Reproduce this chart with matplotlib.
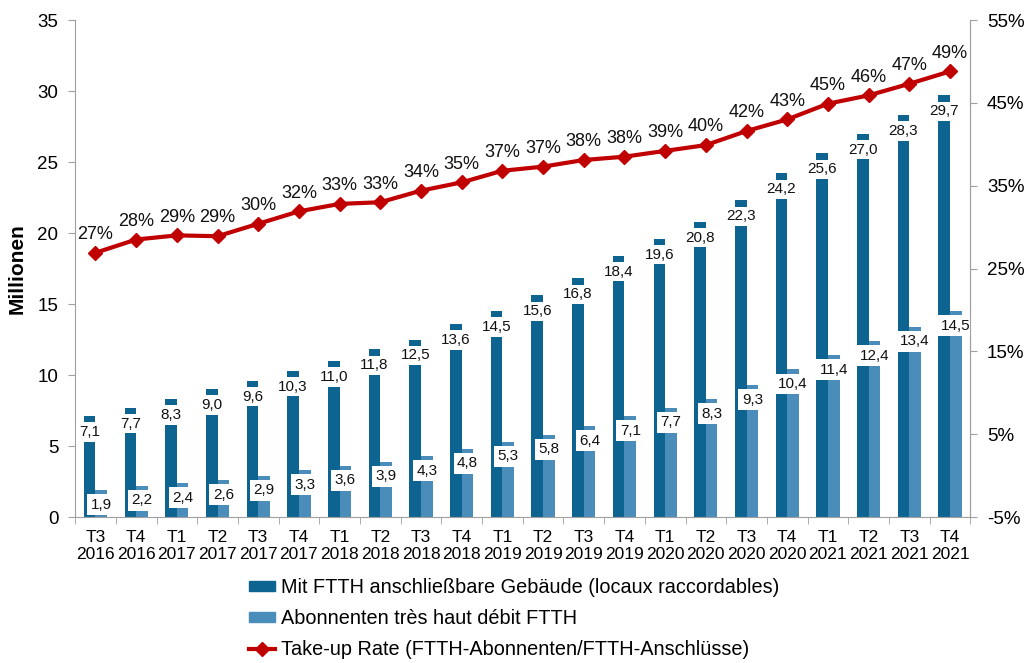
import matplotlib
matplotlib.use("Agg")
import matplotlib.pyplot as plt
import numpy as np
from matplotlib.lines import Line2D
from matplotlib.patches import Patch

plt.rcParams['font.family'] = ['Liberation Sans', 'DejaVu Sans']

quarters = ["T3", "T4", "T1", "T2", "T3", "T4", "T1", "T2", "T3", "T4", "T1",
            "T2", "T3", "T4", "T1", "T2", "T3", "T4", "T1", "T2", "T3", "T4"]
years = ["2016", "2016", "2017", "2017", "2017", "2017", "2018", "2018", "2018", "2018", "2019",
         "2019", "2019", "2019", "2020", "2020", "2020", "2020", "2021", "2021", "2021", "2021"]
raccordables = [7.1, 7.7, 8.3, 9.0, 9.6, 10.3, 11.0, 11.8, 12.5, 13.6, 14.5,
                15.6, 16.8, 18.4, 19.6, 20.8, 22.3, 24.2, 25.6, 27.0, 28.3, 29.7]
abonnes = [1.9, 2.2, 2.4, 2.6, 2.9, 3.3, 3.6, 3.9, 4.3, 4.8, 5.3,
           5.8, 6.4, 7.1, 7.7, 8.3, 9.3, 10.4, 11.4, 12.4, 13.4, 14.5]
takeup = [26.9, 28.5, 29.0, 28.9, 30.4, 31.9, 32.8, 33.0, 34.4, 35.4, 36.8,
          37.3, 38.1, 38.5, 39.2, 39.9, 41.6, 43.0, 44.9, 45.9, 47.3, 48.8]
takeup_labels = ["27%", "28%", "29%", "29%", "30%", "32%", "33%", "33%", "34%", "35%", "37%",
                 "37%", "38%", "38%", "39%", "40%", "42%", "43%", "45%", "46%", "47%", "49%"]

dark = "#0E6491"
light = "#4A8DBA"
red = "#C00000"
gray = "#A0A0A0"

fig = plt.figure(figsize=(10.29, 6.63), dpi=100)
ax = fig.add_axes([0.073, 0.2202, 0.870, 0.7496])
x = np.arange(len(quarters))
w = 0.285

ax.bar(x - w / 2, raccordables, width=w, color=dark, zorder=2)
ax.bar(x + w / 2, abonnes, width=w, color=light, zorder=2)

for xi, v in zip(x, raccordables):
    ax.annotate(f"{v:.1f}".replace(".", ","), (xi - w / 2, v), xytext=(0, -11.5),
                textcoords="offset points", ha="center", va="center",
                fontsize=11, color="#111111", zorder=4,
                bbox=dict(boxstyle="square,pad=0.18", fc="white", ec="none"))
for xi, v in zip(x, abonnes):
    ax.annotate(f"{v:.1f}".replace(".", ","), (xi + w / 2, v), xytext=(0, -10.5),
                textcoords="offset points", ha="center", va="center",
                fontsize=11, color="#111111", zorder=5,
                bbox=dict(boxstyle="square,pad=0.22", fc="white", ec="none"))

ax.set_xlim(-0.5, len(quarters) - 0.5)
ax.set_ylim(0, 35)
ax.set_yticks(np.arange(0, 36, 5))
ax.set_xticks(x)
ax.set_xticklabels([f"{q}\n{y}" for q, y in zip(quarters, years)], fontsize=12.5, linespacing=1.2)
ax.set_xticks(np.arange(-0.5, len(quarters), 1), minor=True)
ax.tick_params(axis="x", which="major", length=0, pad=9)
ax.tick_params(axis="x", which="minor", length=5, color=gray, direction="out")
ax.tick_params(axis="y", labelsize=13.5, length=5, color=gray, direction="out", pad=7)
ax.set_ylabel("Millionen", fontsize=15, fontweight="bold", labelpad=8)
ax.spines["top"].set_visible(False)
for s in ["left", "bottom", "right"]:
    ax.spines[s].set_color(gray)

ax2 = ax.twinx()
ax2.set_ylim(-5, 55)
ax2.set_yticks(np.arange(-5, 56, 10))
ax2.set_yticklabels([f"{t}%" for t in range(-5, 56, 10)], fontsize=13.5)
ax2.tick_params(axis="y", length=5, color=gray, direction="out", pad=7)
ax2.spines["top"].set_visible(False)
ax2.spines["right"].set_color(gray)
ax2.spines["left"].set_visible(False)
ax2.spines["bottom"].set_visible(False)
ax2.plot(x, takeup, color=red, lw=3, marker="D", markersize=7.5, zorder=6)
for xi, v, lab in zip(x, takeup, takeup_labels):
    ax2.annotate(lab, (xi, v), xytext=(0, 7), textcoords="offset points",
                 ha="center", va="bottom", fontsize=13, color="#111111")

handles = [Patch(color=dark), Patch(color=light),
           Line2D([], [], color=red, lw=3, marker="D", markersize=7)]
labels = ["Mit FTTH anschließbare Gebäude (locaux raccordables)",
          "Abonnenten très haut débit FTTH",
          "Take-up Rate (FTTH-Abonnenten/FTTH-Anschlüsse)"]
leg = fig.legend(handles, labels, loc="upper left",
                 bbox_to_anchor=(249 / 1029, 1 - 578 / 663),
                 frameon=False, fontsize=14.3, handlelength=1.3, handleheight=0.45,
                 handletextpad=0.3, labelspacing=0.6, borderaxespad=0, borderpad=0)

fig.savefig("out.png", dpi=100)
